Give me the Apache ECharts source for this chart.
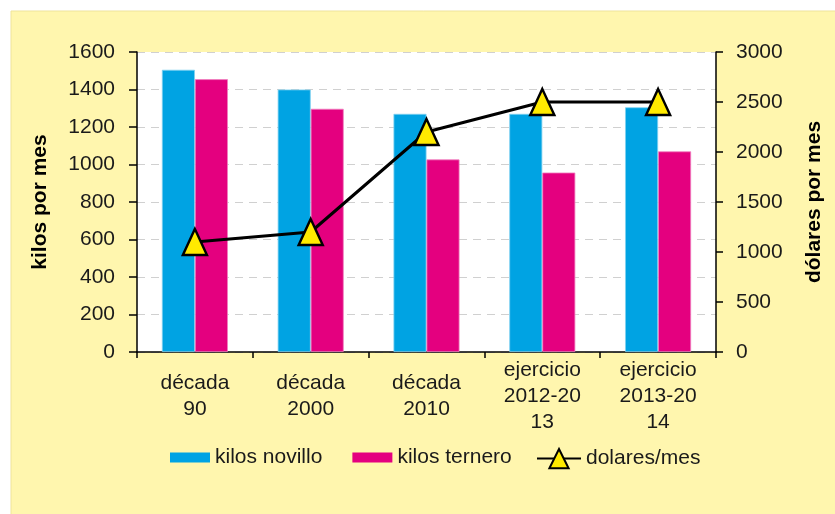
<!DOCTYPE html>
<html>
<head>
<meta charset="utf-8">
<script src="https://cdn.jsdelivr.net/npm/echarts@6/dist/echarts.min.js"></script>
<style>
  html, body { margin: 0; padding: 0; background: #fff; }
  #container { width: 835px; height: 514px; }
</style>
</head>
<body>
<div id="container"></div>
<script>
var dom = document.getElementById("container");
var myChart = echarts.init(dom);

var categories = ['década\n90', 'década\n2000', 'década\n2010', 'ejercicio\n2012-20\n13', 'ejercicio\n2013-20\n14'];
var kilosNovillo = [1505, 1400, 1270, 1270, 1305];
var kilosTernero = [1455, 1297, 1027, 957, 1070];
var dolaresMes = [1100, 1200, 2200, 2500, 2500];

var font = 'Liberation Sans, Arial, sans-serif';
var txt = '#1a1a1a';

var option = {
    backgroundColor: '#fff',
    textStyle: {fontFamily: font},
    graphic: [{
        type: 'rect',
        shape: {x: 11, y: 11, width: 830, height: 510},
        style: {fill: '#fff6ae', stroke: '#efe39a', lineWidth: 1},
        z: -10
    }],
    grid: {left: 137, right: 119, top: 52, bottom: 162, show: true, backgroundColor: '#fff', borderWidth: 0},
    legend: [{
        data: ['kilos novillo', 'kilos ternero'],
        icon: 'rect',
        left: 170, top: 447, padding: 0,
        itemWidth: 40, itemHeight: 10, itemGap: 30,
        itemStyle: {borderWidth: 0},
        textStyle: {fontSize: 21, color: txt, fontFamily: font}
    }, {
        data: ['dolares/mes'],
        left: 536, top: 448, padding: 0,
        itemWidth: 44, itemHeight: 24,
        textStyle: {fontSize: 21, color: txt, fontFamily: font}
    }],
    xAxis: {
        type: 'category',
        data: categories,
        axisLine: {lineStyle: {color: '#000', width: 1.5}},
        axisTick: {show: true, length: 6, lineStyle: {color: '#000', width: 1.5}},
        axisLabel: {
            interval: 0, fontSize: 21, color: txt, lineHeight: 26,
            verticalAlign: 'middle', margin: 44
        }
    },
    yAxis: [{
        type: 'value', min: 0, max: 1600, interval: 200,
        name: 'kilos por mes', nameLocation: 'middle', nameGap: 86,
        nameTextStyle: {fontSize: 21, fontWeight: 'bold', color: '#000'},
        axisLine: {show: true, lineStyle: {color: '#000', width: 1.5}},
        axisTick: {show: true, length: 8, lineStyle: {color: '#000', width: 1.5}},
        axisLabel: {fontSize: 21, color: txt, margin: 22, formatter: function (v) { return String(v); }},
        splitLine: {lineStyle: {color: '#d0d0d0', type: [8, 6], width: 1.2}}
    }, {
        type: 'value', min: 0, max: 3000, interval: 500,
        name: 'dólares por mes', nameLocation: 'middle', nameGap: 88,
        nameTextStyle: {fontSize: 21, fontWeight: 'bold', color: '#000'},
        axisLine: {show: true, lineStyle: {color: '#000', width: 1.5}},
        axisTick: {show: true, length: 7, lineStyle: {color: '#000', width: 1.5}},
        axisLabel: {fontSize: 21, color: txt, margin: 20, formatter: function (v) { return String(v); }},
        splitLine: {show: false}
    }],
    series: [{
        name: 'kilos novillo', type: 'bar', data: kilosNovillo,
        barGap: '0%', barCategoryGap: '43%',
        itemStyle: {color: '#00a3e3', borderColor: '#7fd0f0', borderWidth: 0.8}
    }, {
        name: 'kilos ternero', type: 'bar', data: kilosTernero,
        itemStyle: {color: '#e4007f', borderColor: '#f07fbf', borderWidth: 0.8}
    }, {
        name: 'dolares/mes', type: 'line', yAxisIndex: 1, data: dolaresMes,
        symbol: 'triangle', symbolSize: [24, 26],
        lineStyle: {color: '#000', width: 3},
        itemStyle: {color: '#ffea00', borderColor: '#000', borderWidth: 2.5},
        z: 5
    }]
};

myChart.setOption(option);
</script>
</body>
</html>
